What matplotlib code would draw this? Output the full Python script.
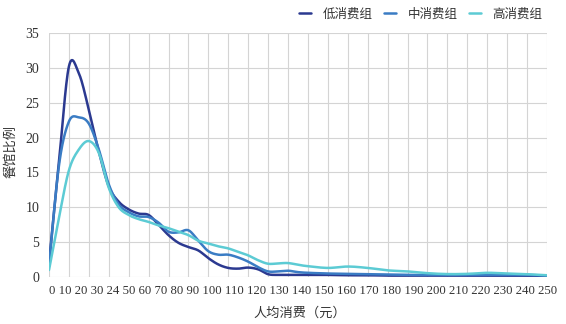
"""
Restaurant share by per-capita spending, three spending groups
"""

import numpy as np
import matplotlib
matplotlib.use('Agg')
import matplotlib.pyplot as plt

plt.rcParams['font.family'] = ['Noto Sans CJK SC', 'DejaVu Sans']

# per-capita spend (yuan) where the curves were read
spend = [0, 5, 10, 15, 20, 25, 30, 35, 40, 45, 50, 55, 60, 65, 70, 75, 80, 85, 90, 95,
         100, 105, 110, 115, 120, 125, 130, 140, 150, 160, 170, 180, 190, 200, 210,
         220, 230, 240, 250]

low = [2.0, 16.5, 30.2, 29.2, 24.0, 18.0, 13.0, 10.8, 9.7, 9.1, 8.9, 7.5, 6.0, 4.9, 4.3,
       3.8, 2.7, 1.8, 1.3, 1.2, 1.35, 1.1, 0.4, 0.3, 0.3, 0.3, 0.3, 0.3, 0.25, 0.25,
       0.2, 0.2, 0.2, 0.2, 0.2, 0.2, 0.2, 0.2, 0.15]
mid = [1.5, 16.0, 22.3, 22.9, 22.0, 18.3, 13.3, 10.4, 9.3, 8.7, 8.6, 7.8, 6.5, 6.4, 6.7,
       5.2, 3.7, 3.2, 3.2, 2.8, 2.2, 1.4, 0.8, 0.8, 0.9, 0.7, 0.6, 0.5, 0.45, 0.4,
       0.35, 0.3, 0.3, 0.3, 0.3, 0.3, 0.3, 0.3, 0.2]
high = [1.0, 8.5, 15.3, 18.3, 19.5, 17.8, 12.8, 10.0, 8.9, 8.3, 7.9, 7.4, 7.0, 6.5, 6.0,
        5.2, 4.8, 4.4, 4.1, 3.6, 3.1, 2.4, 1.9, 1.95, 2.0, 1.75, 1.55, 1.3, 1.5, 1.3,
        0.95, 0.8, 0.55, 0.42, 0.45, 0.6, 0.5, 0.4, 0.25]

series_names = ['低消费组', '中消费组', '高消费组']
series_colors = ['#2b3990', '#3a7cc4', '#5ccbd4']

# x tick labels exactly as printed in the source (note the "24")
xtick_labels = ['0', '10', '20', '30', '24', '50', '60', '70', '80', '90', '100', '110',
                '120', '130', '140', '150', '160', '170', '180', '190', '200', '210',
                '220', '230', '240', '250']


def smooth(x, y, n=16):
    # excel-style smoothed line: cubic bezier through the points
    p = np.column_stack([x, y]).astype(float)
    out = [p[0]]
    t = np.linspace(0, 1, n)[1:, None]
    for i in range(len(p) - 1):
        p0 = p[max(i - 1, 0)]
        p1, p2 = p[i], p[i + 1]
        p3 = p[min(i + 2, len(p) - 1)]
        c1 = p1 + (p2 - p0) / 6
        c2 = p2 - (p3 - p1) / 6
        seg = ((1 - t) ** 3) * p1 + 3 * ((1 - t) ** 2) * t * c1 + 3 * (1 - t) * t ** 2 * c2 + t ** 3 * p2
        out.extend(seg)
    out = np.array(out)
    return out[:, 0], out[:, 1]


fig = plt.figure(figsize=(5.66, 3.24), dpi=100)
ax = fig.add_axes([49 / 566, 1 - 277 / 324, 498 / 566, 244 / 324])

for vals, name, c in zip([low, mid, high], series_names, series_colors):
    sx, sy = smooth(spend, vals)
    ax.plot(sx, sy, color=c, lw=1.8, label=name, solid_capstyle='round')

ax.set_xlim(0, 250)
ax.set_ylim(0, 35)
ax.set_xticks(np.arange(0, 251, 10))
ax.set_yticks(np.arange(0, 36, 5))
ax.set_xticklabels([])
ax.set_yticklabels([str(v) for v in range(0, 36, 5)], family='Liberation Serif',
                   fontsize=10, color='#333333')
ax.tick_params(length=0, pad=7)
ax.grid(True, color='#d4d4d4', lw=0.8)
ax.set_axisbelow(True)
for s in ax.spines.values():
    s.set_visible(False)

# the category labels are printed as one run of text under the axis
fig.text(49 / 566, 1 - 291 / 324, ' '.join(xtick_labels), family='Liberation Serif',
         fontsize=9.2, color='#333333', ha='left', va='center')

fig.text(300 / 566, 1 - 313 / 324, '人均消费（元）', fontsize=9.5, color='#333333',
         ha='center', va='center')
fig.text(11 / 566, 1 - 152 / 324, '餐馆比例', fontsize=9.5, color='#333333',
         rotation=90, ha='center', va='center')

leg = fig.legend(loc='upper right', bbox_to_anchor=(550 / 566, 1.0), ncol=3,
                 frameon=False, fontsize=9, handlelength=1.0, handletextpad=0.9,
                 columnspacing=0.9, borderaxespad=0.2)
for t in leg.get_texts():
    t.set_color('#333333')

fig.savefig('out.png', dpi=100)
